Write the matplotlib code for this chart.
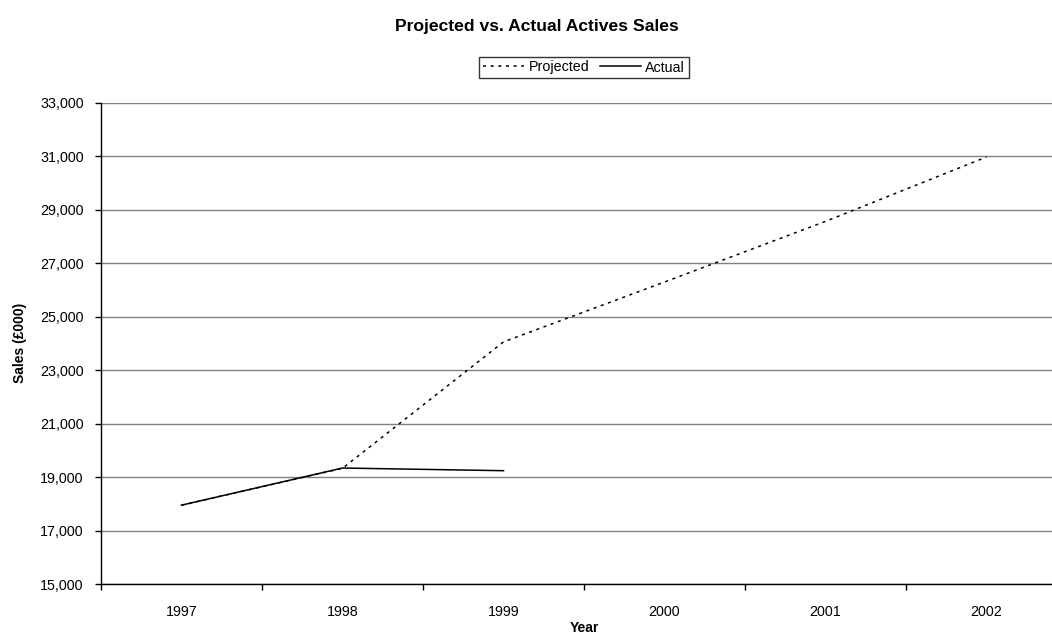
import matplotlib
matplotlib.use('Agg')
import matplotlib.pyplot as plt
import numpy as np
from matplotlib.ticker import FuncFormatter, FixedLocator

plt.rcParams['font.family'] = ['Liberation Sans', 'DejaVu Sans']

years = ['1997', '1998', '1999', '2000', '2001', '2002']
projected = [17950, 19330, 24060, 26300, 28570, 30980]
actual = [17950, 19340, 19240]
y_ticks = list(range(15000, 33001, 2000))

fig = plt.figure(figsize=(10.52, 6.37), dpi=100)
# plot area runs past the right edge of the picture, as in the original
ax = fig.add_axes([101 / 1052, 1 - 584 / 637, 966 / 1052, 481 / 637])

x = np.arange(len(years)) + 0.5
ax.plot(x, projected, color='black', lw=1.1, linestyle=(0, (2.0, 3.0)), label='Projected')
ax.plot(x[:len(actual)], actual, color='black', lw=1.1, label='Actual')

ax.set_xlim(0, len(years))
ax.set_ylim(15000, 33000)
ax.set_yticks(y_ticks)
ax.yaxis.set_major_formatter(FuncFormatter(lambda v, p: f'{int(v):,}'))
ax.grid(axis='y', color='#808080', lw=1.0)
ax.set_axisbelow(True)

ax.set_xticks(x)
ax.set_xticklabels(years)
ax.xaxis.set_minor_locator(FixedLocator(np.arange(0, len(years) + 1)))
ax.tick_params(axis='x', which='major', length=0, pad=15, labelsize=10.3)
ax.tick_params(axis='x', which='minor', length=4, width=1, color='black', direction='out')
ax.tick_params(axis='y', length=4, width=1, pad=8.5, labelsize=10.3, direction='out')

for s in ['top', 'right']:
    ax.spines[s].set_visible(False)
for s in ['left', 'bottom']:
    ax.spines[s].set_color('black')
    ax.spines[s].set_linewidth(1.0)

fig.text(537 / 1052, 1 - 27 / 637, 'Projected vs. Actual Actives Sales',
         ha='center', va='center', fontsize=12.6, fontweight='bold')
fig.text(584 / 1052, 1 - 628 / 637, 'Year', ha='center', va='center',
         fontsize=10, fontweight='bold')
fig.text(20 / 1052, 1 - 343 / 637, 'Sales (£000)', ha='center', va='center',
         rotation=90, fontsize=10, fontweight='bold')

leg = fig.legend(loc='center', bbox_to_anchor=(584 / 1052, 1 - 67.5 / 637), ncol=2,
                 fontsize=10.3, frameon=True, fancybox=False, handlelength=2.9,
                 handletextpad=0.3, columnspacing=0.7, borderpad=0.25,
                 borderaxespad=0)
leg.get_frame().set_edgecolor('black')
leg.get_frame().set_linewidth(1.0)

fig.savefig('out.png', dpi=100)
